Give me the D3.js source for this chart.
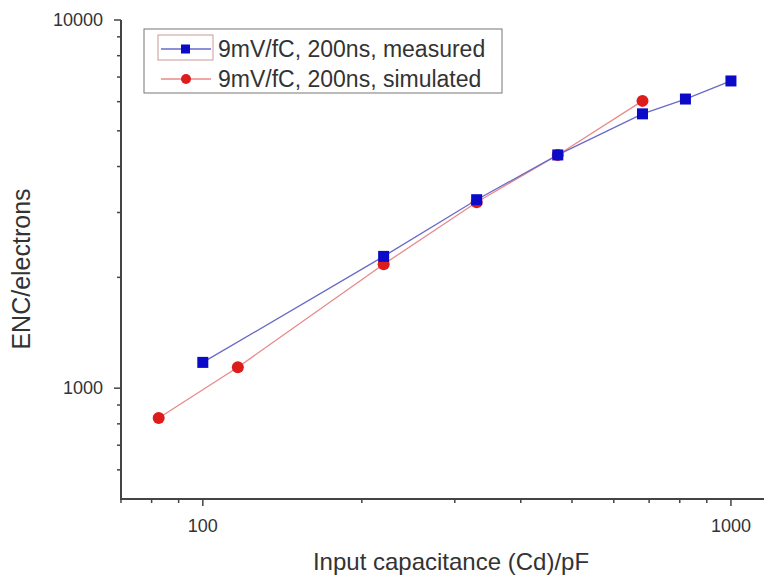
<!DOCTYPE html>
<html>
<head>
<meta charset="utf-8">
<script src="https://cdn.jsdelivr.net/npm/d3@7"></script>
<style>
  body { margin: 0; background: #fff; }
  text { font-family: "Liberation Sans", Arial, sans-serif; fill: #333; }
</style>
</head>
<body>
<div id="chart"></div>
<script>
// data
const measuredCd = [100, 220, 330, 470, 680, 820, 1000]
const measuredEnc = [1175, 2280, 3250, 4300, 5560, 6100, 6830]
const simulatedCd = [82.5, 116.5, 220, 330, 470, 680]
const simulatedEnc = [830, 1140, 2170, 3200, 4300, 6030]
const seriesNames = ['9mV/fC, 200ns, measured', '9mV/fC, 200ns, simulated']
const xTicks = [100, 1000]
const yTicks = [1000, 10000]

const width = 764, height = 576

const svg = d3.select('#chart')
  .append('svg')
    .attr('width', width)
    .attr('height', height)

// log scales, 100 -> 204px and 1000 -> 731px
const x = d3.scaleLog()
  .domain([70, 1155])
  .range([121, 764])
const y = d3.scaleLog()
  .domain([500, 10000])
  .range([499, 20])

const axisColor = '#444'

// minor ticks
const xMinor = [70, 80, 90, 200, 300, 400, 500, 600, 700, 800, 900]
const yMinor = [600, 700, 800, 900, 2000, 3000, 4000, 5000, 6000, 7000, 8000, 9000]

// X axis
const gx = svg.append('g')
  .attr('transform', `translate(0, ${y(500)})`)
gx.append('line')
  .attr('x1', x(70)).attr('x2', 764)
  .attr('stroke', axisColor).attr('stroke-width', 2)
gx.selectAll('.minor')
  .data(xMinor)
  .enter()
  .append('line')
    .attr('x1', d => x(d)).attr('x2', d => x(d))
    .attr('y1', 0).attr('y2', 4)
    .attr('stroke', axisColor).attr('stroke-width', 1.5)
gx.selectAll('.major')
  .data(xTicks)
  .enter()
  .append('line')
    .attr('x1', d => x(d)).attr('x2', d => x(d))
    .attr('y1', 0).attr('y2', 7)
    .attr('stroke', axisColor).attr('stroke-width', 1.5)
gx.selectAll('.lbl')
  .data(xTicks)
  .enter()
  .append('text')
    .attr('x', d => x(d))
    .attr('y', 33)
    .attr('text-anchor', 'middle')
    .style('font-size', '18px')
    .text(d => d)

// Y axis
const gy = svg.append('g')
  .attr('transform', `translate(${x(70)}, 0)`)
gy.append('line')
  .attr('y1', y(500) + 1).attr('y2', y(10000))
  .attr('stroke', axisColor).attr('stroke-width', 2)
gy.selectAll('.minor')
  .data(yMinor)
  .enter()
  .append('line')
    .attr('y1', d => y(d)).attr('y2', d => y(d))
    .attr('x1', 0).attr('x2', -4)
    .attr('stroke', axisColor).attr('stroke-width', 1.5)
gy.selectAll('.major')
  .data(yTicks)
  .enter()
  .append('line')
    .attr('y1', d => y(d)).attr('y2', d => y(d))
    .attr('x1', 0).attr('x2', -7)
    .attr('stroke', axisColor).attr('stroke-width', 1.5)
gy.selectAll('.lbl')
  .data(yTicks)
  .enter()
  .append('text')
    .attr('x', -18)
    .attr('y', d => y(d) + 6)
    .attr('text-anchor', 'end')
    .style('font-size', '18px')
    .text(d => d)

// axis titles
svg.append('text')
  .attr('x', 451)
  .attr('y', 570)
  .attr('text-anchor', 'middle')
  .style('font-size', '24px')
  .text('Input capacitance (Cd)/pF')

svg.append('text')
  .attr('transform', 'translate(30, 269) rotate(-90)')
  .attr('text-anchor', 'middle')
  .style('font-size', '25px')
  .text('ENC/electrons')

// lines
const line = d3.line()
  .x(d => x(d[0]))
  .y(d => y(d[1]))

const measured = measuredCd.map((c, i) => [c, measuredEnc[i]])
const simulated = simulatedCd.map((c, i) => [c, simulatedEnc[i]])

svg.append('path')
  .datum(simulated)
  .attr('d', line)
  .attr('fill', 'none')
  .attr('stroke', '#e88a8a')
  .attr('stroke-width', 1.3)

svg.append('path')
  .datum(measured)
  .attr('d', line)
  .attr('fill', 'none')
  .attr('stroke', '#6a6ac8')
  .attr('stroke-width', 1.3)

svg.selectAll('.sim')
  .data(simulated)
  .enter()
  .append('circle')
    .attr('cx', d => x(d[0]))
    .attr('cy', d => y(d[1]))
    .attr('r', 6)
    .attr('fill', '#dd1c1c')

svg.selectAll('.meas')
  .data(measured)
  .enter()
  .append('rect')
    .attr('x', d => x(d[0]) - 5.5)
    .attr('y', d => y(d[1]) - 5.5)
    .attr('width', 11)
    .attr('height', 11)
    .attr('fill', '#0a0ac8')

// legend
const legend = svg.append('g')
legend.append('rect')
  .attr('x', 144).attr('y', 29)
  .attr('width', 358).attr('height', 64)
  .attr('fill', '#fff')
  .attr('stroke', '#777').attr('stroke-width', 1)
legend.append('rect')
  .attr('x', 158).attr('y', 35)
  .attr('width', 55).attr('height', 25)
  .attr('fill', 'none')
  .attr('stroke', '#c99').attr('stroke-width', 1)

const legendColors = [['#6a6ac8', '#0a0ac8'], ['#e88a8a', '#dd1c1c']]
seriesNames.forEach((name, i) => {
  let cy = 49 + i * 30
  legend.append('line')
    .attr('x1', 161).attr('x2', 211)
    .attr('y1', cy).attr('y2', cy)
    .attr('stroke', legendColors[i][0]).attr('stroke-width', 1.3)
  if (i == 0) {
    legend.append('rect')
      .attr('x', 181).attr('y', cy - 4.5)
      .attr('width', 9).attr('height', 9)
      .attr('fill', legendColors[i][1])
  } else {
    legend.append('circle')
      .attr('cx', 186).attr('cy', cy)
      .attr('r', 5)
      .attr('fill', legendColors[i][1])
  }
  legend.append('text')
    .attr('x', 218)
    .attr('y', cy + 8)
    .style('font-size', '23px')
    .text(name)
})
</script>
</body>
</html>
